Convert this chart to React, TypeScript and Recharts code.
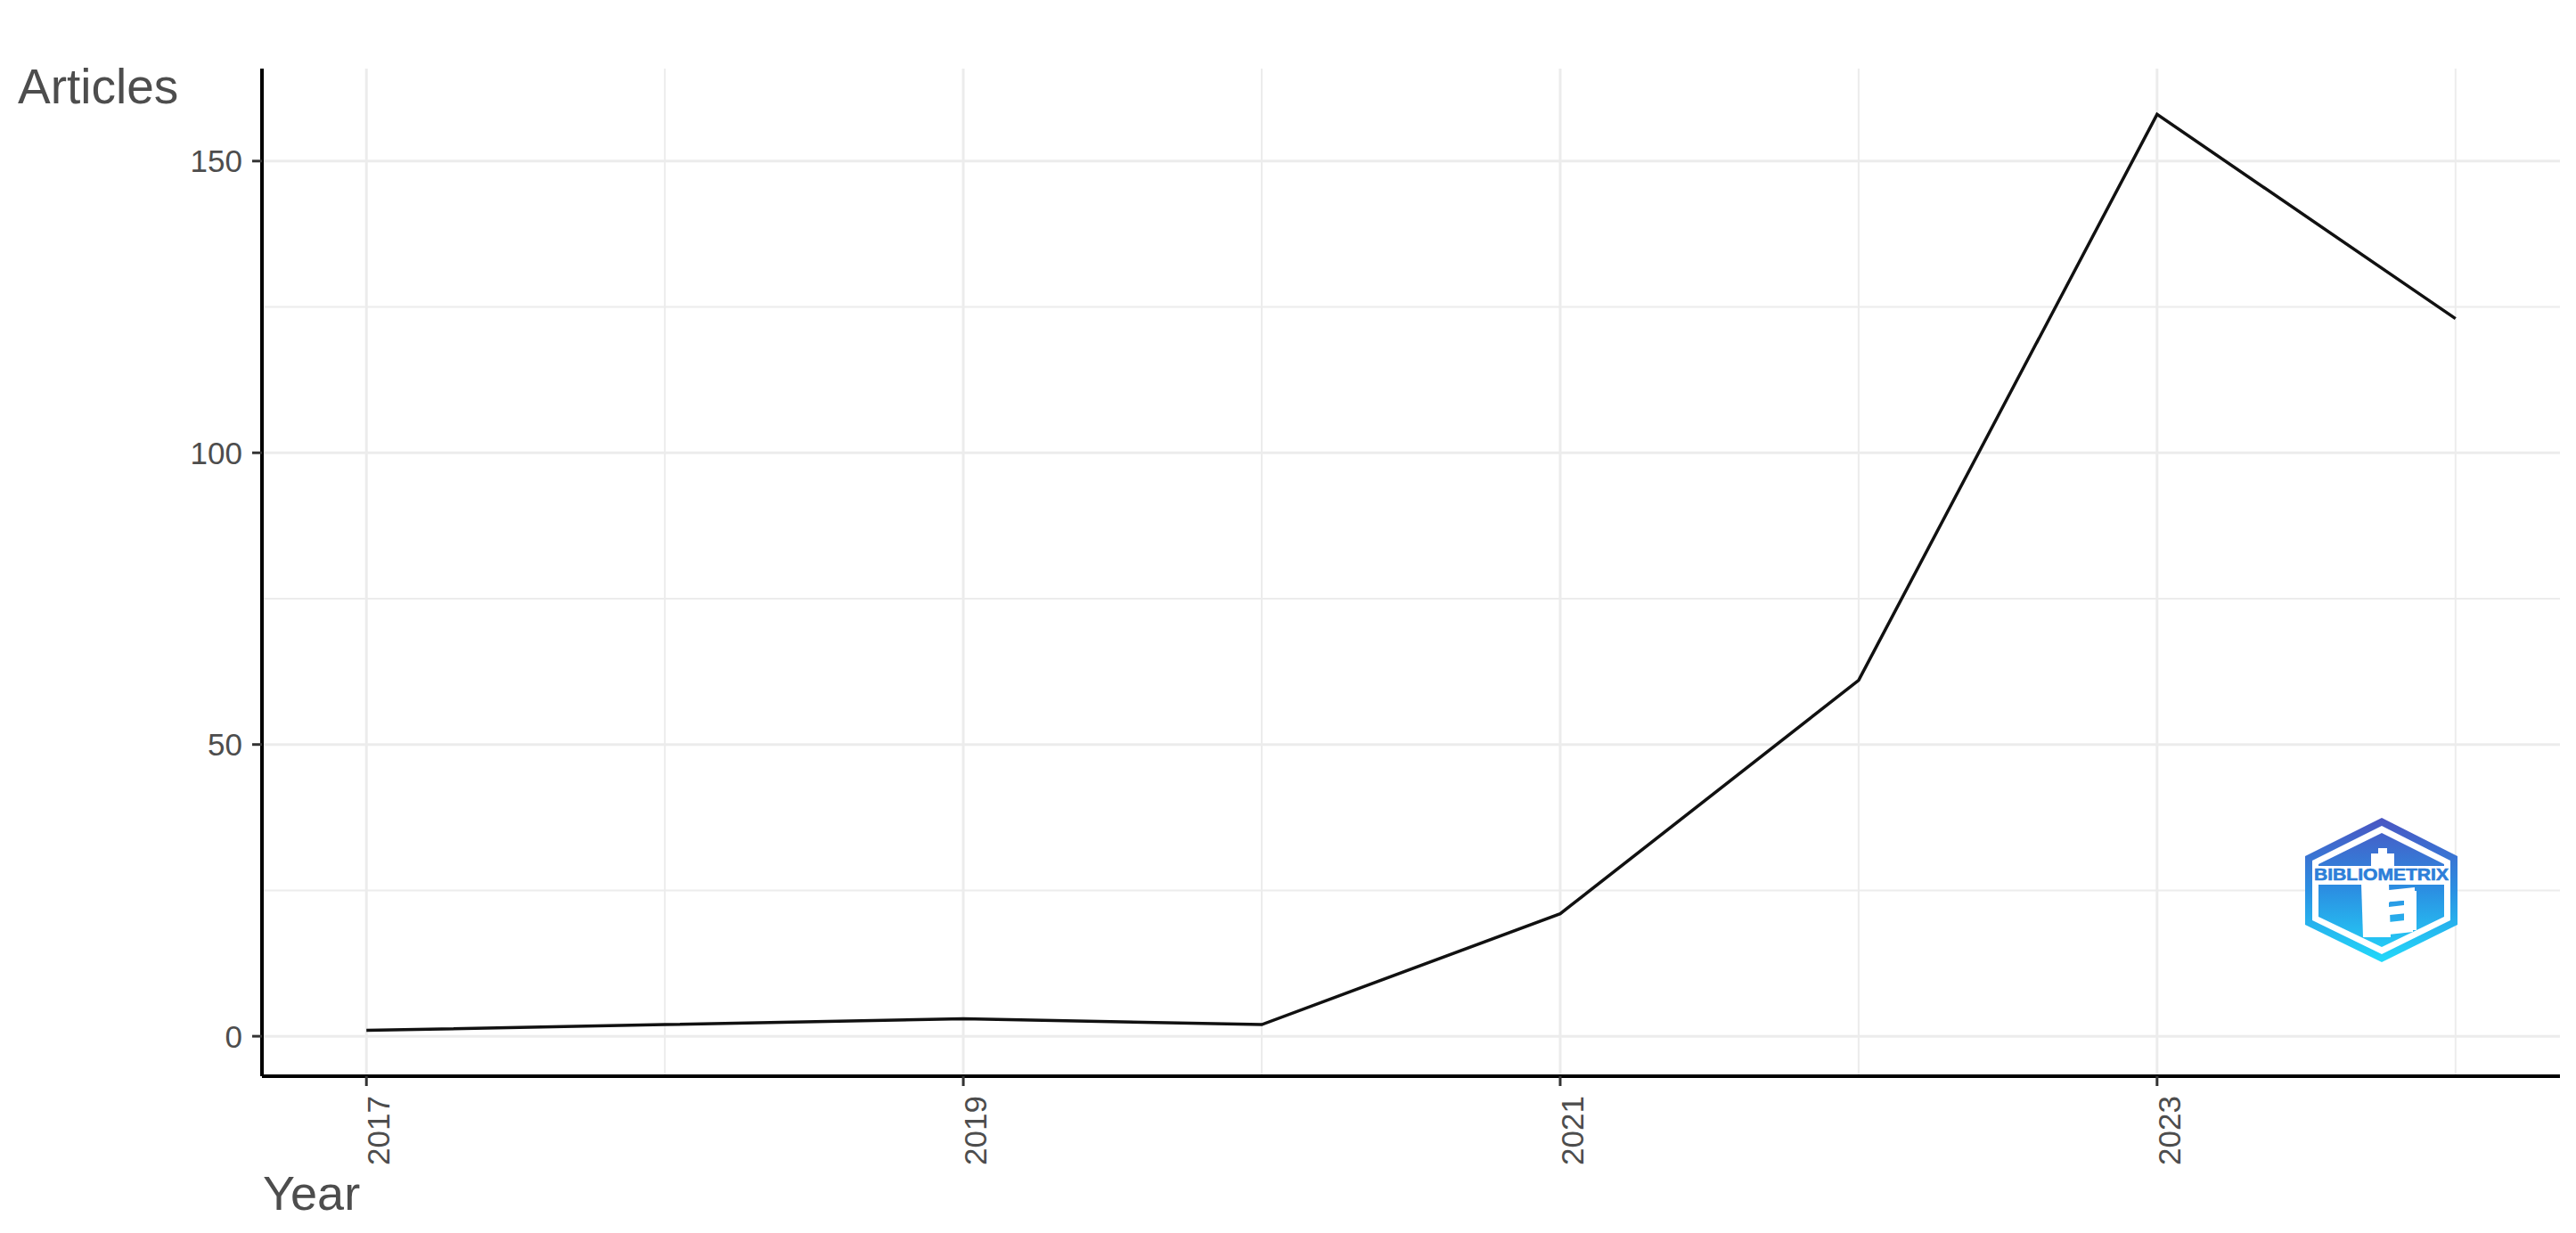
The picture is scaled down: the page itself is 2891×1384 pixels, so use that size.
import React from 'react';
import { LineChart, Line, XAxis, YAxis, ReferenceLine } from 'recharts';

const years = [2017, 2018, 2019, 2020, 2021, 2022, 2023, 2024];
const articles = [1, 2, 3, 2, 21, 61, 158, 123];
const xMajorTicks = [2017, 2019, 2021, 2023];
const xMinorTicks = [2018, 2020, 2022, 2024];
const yMajorTicks = [0, 50, 100, 150];
const yMinorTicks = [25, 75, 125];

const data = years.map((year, i) => ({ year, articles: articles[i] }));

const FONT = '"Liberation Sans", Arial, Helvetica, sans-serif';
const TEXT = '#4d4d4d';
const GRID = '#ececec';

const XTick = (props: any) => {
  const { x, y, payload } = props;
  return (
    <g transform={`translate(${x + 26},${y + 11})`}>
      <text
        transform="rotate(-90)"
        textAnchor="end"
        fill={TEXT}
        style={{ fontSize: '35px', fontFamily: FONT }}
      >
        {payload.value}
      </text>
    </g>
  );
};

const Logo = () => (
  <g>
    <defs>
      <linearGradient id="bxg" x1="0" y1="918" x2="0" y2="1080" gradientUnits="userSpaceOnUse">
        <stop offset="0%" stopColor="#4a55c2" />
        <stop offset="50%" stopColor="#2b8fe2" />
        <stop offset="100%" stopColor="#22dafa" />
      </linearGradient>
    </defs>
    <polygon points="2673,918 2758,961 2758,1038 2673,1080 2587,1038 2587,961" fill="url(#bxg)" />
    <polygon points="2673,927 2750,966 2750,1033 2673,1071 2595,1033 2595,966" fill="#ffffff" />
    <polygon points="2673,935 2743,970 2743,1029 2673,1063 2602,1029 2602,970" fill="url(#bxg)" />
    <rect x="2595" y="972" width="155" height="20" fill="#ffffff" />
    <rect x="2602" y="986" width="141" height="7" fill="#ffffff" />
    <rect x="2669" y="952" width="10" height="6" fill="#ffffff" />
    <rect x="2661" y="958" width="26" height="15" fill="#ffffff" />
    <polygon points="2650,992 2681,992 2683,1052 2652,1052" fill="#ffffff" />
    <polygon points="2672,1000 2710,996 2710,1010 2672,1013" fill="#ffffff" />
    <polygon points="2652,1018 2712,1012 2712,1024 2652,1030" fill="#ffffff" />
    <polygon points="2672,1036 2708,1032 2708,1046 2672,1050" fill="#ffffff" />
    <polygon points="2698,1000 2712,1000 2712,1044 2698,1044" fill="#ffffff" />
    <polygon points="2681,1013 2698,1011 2698,1016 2681,1018" fill="url(#bxg)" />
    <text
      x="2597"
      y="988"
      textLength={151}
      lengthAdjust="spacingAndGlyphs"
      fontFamily={FONT}
      fontWeight="bold"
      fontSize={18}
      fill="#2d7fd9"
      stroke="#2d7fd9"
      strokeWidth={0.6}
    >
      BIBLIOMETRIX
    </text>
  </g>
);

export default function App() {
  return (
    <div style={{ position: 'absolute', left: 0, top: 0, width: 2891, height: 1384, background: '#ffffff' }}>
      <LineChart
        width={2891}
        height={1384}
        data={data}
        margin={{ top: 77, right: 18, left: 0, bottom: 0 }}
      >
        {xMinorTicks.map((v) => (
          <ReferenceLine key={`xm${v}`} x={v} stroke={GRID} strokeWidth={2} />
        ))}
        {yMinorTicks.map((v) => (
          <ReferenceLine key={`ym${v}`} y={v} stroke={GRID} strokeWidth={2} />
        ))}
        {xMajorTicks.map((v) => (
          <ReferenceLine key={`xM${v}`} x={v} stroke={GRID} strokeWidth={3} />
        ))}
        {yMajorTicks.map((v) => (
          <ReferenceLine key={`yM${v}`} y={v} stroke={GRID} strokeWidth={3} />
        ))}
        <XAxis
          dataKey="year"
          type="number"
          domain={[2016.65, 2024.35]}
          ticks={xMajorTicks}
          allowDataOverflow
          height={176}
          tickSize={11}
          tickMargin={0}
          tick={<XTick />}
          axisLine={{ stroke: '#000000', strokeWidth: 4 }}
          tickLine={{ stroke: '#333333', strokeWidth: 3 }}
          interval={0}
        />
        <YAxis
          type="number"
          domain={[-6.85, 165.85]}
          ticks={yMajorTicks}
          allowDataOverflow
          width={294}
          tickSize={11}
          tickMargin={11}
          tick={{ fill: TEXT, fontSize: 35, fontFamily: FONT }}
          axisLine={{ stroke: '#000000', strokeWidth: 4 }}
          tickLine={{ stroke: '#333333', strokeWidth: 3 }}
          interval={0}
        />
        <Line
          type="linear"
          dataKey="articles"
          stroke="#111111"
          strokeWidth={3.5}
          dot={false}
          activeDot={false}
          isAnimationActive={false}
        />
      </LineChart>
      <svg
        width={2891}
        height={1384}
        style={{ position: 'absolute', left: 0, top: 0, pointerEvents: 'none' }}
      >
        <text x={20} y={116} fontSize={55} fontFamily={FONT} fill={TEXT}>Articles</text>
        <text x={295} y={1358} fontSize={54} fontFamily={FONT} fill={TEXT}>Year</text>
        <Logo />
      </svg>
    </div>
  );
}
